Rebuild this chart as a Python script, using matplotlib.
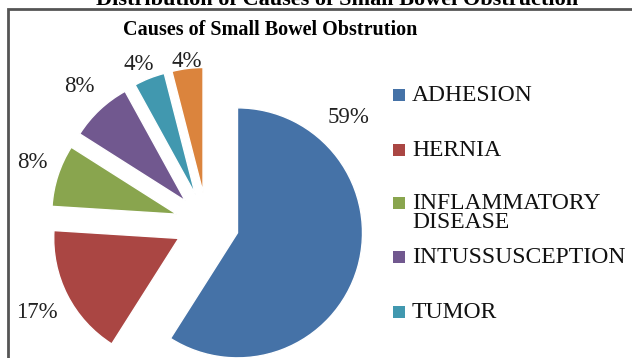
import matplotlib.pyplot as plt
from matplotlib.patches import Rectangle

# data
causes = ["ADHESION", "HERNIA", "INFLAMMATORY\nDISEASE", "INTUSSUSCEPTION", "TUMOR", "OTHER"]
percent = [59, 17, 8, 8, 4, 4]
colors = ["#4572A7", "#AA4643", "#89A54E", "#71588F", "#4198AF", "#DB843D"]

# where Excel put the % labels (pie radius units, relative to pie centre)
label_pos = [(1.13, 0.85), (-1.36, -0.71), (-1.40, 0.49), (-1.02, 1.10), (-0.55, 1.28), (-0.16, 1.30)]

plt.rcParams["font.family"] = ["Liberation Serif", "DejaVu Serif"]

W, H = 632, 358
fig = plt.figure(figsize=(W / 100, H / 100), dpi=100)

# pie centre at (207, 224) px, radius 125 px
cx, cy, r = 207, 224, 125
lim = 1.6
size = 2 * lim * r
ax = fig.add_axes([(cx - size / 2) / W, (H - cy - size / 2) / H, size / W, size / H])
ax.pie(percent, colors=colors, startangle=90, counterclock=False,
       explode=[0.254] * len(percent),
       wedgeprops=dict(edgecolor="white", linewidth=1))
ax.set_xlim(-lim, lim)
ax.set_ylim(-lim, lim)
ax.set_aspect("equal")

for p, (lx, ly) in zip(percent, label_pos):
    ax.text(lx, ly, f"{p}%", ha="center", va="center", fontsize=16.5, color="#222222")

# chart border (runs off the right and bottom of the crop)
fig.patches.append(Rectangle((8 / W, -0.1), 1.0, (H - 9) / H + 0.1, transform=fig.transFigure,
                             fill=False, edgecolor="#555555", linewidth=2, zorder=5))

# cut-off figure caption at the very top
fig.text(337 / W, 1 - 5 / H, "Distribution of Causes of Small Bowel Obstruction",
         ha="center", va="baseline", fontsize=16, fontweight="bold")

fig.text(270 / W, 1 - 30 / H, "Causes of Small Bowel Obstrution",
         ha="center", va="center", fontsize=14.5, fontweight="bold")

# legend drawn by hand, Excel style; the last entry (OTHER) falls below the crop
leg_y = [95, 150, 203, 257, 312]
for name, c, y in zip(causes, colors, leg_y):
    fig.patches.append(Rectangle((393 / W, 1 - (y + 6) / H), 12 / W, 12 / H,
                                 transform=fig.transFigure, facecolor=c, edgecolor="none"))
    fig.text(412 / W, 1 - (y - 10) / H, name, ha="left", va="top", fontsize=17,
             linespacing=0.85, color="#111111")

fig.savefig("out.png", dpi=100)
